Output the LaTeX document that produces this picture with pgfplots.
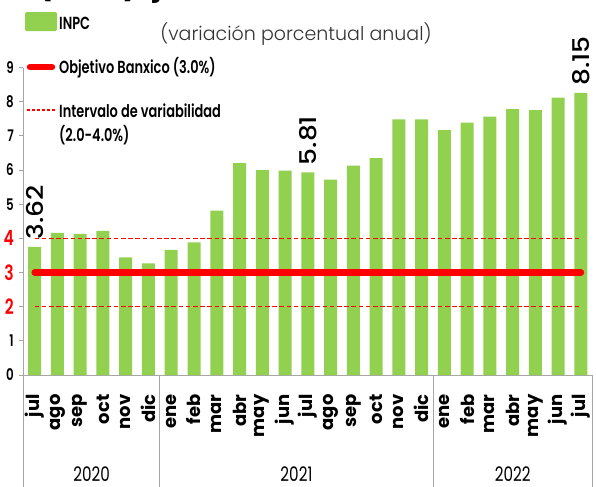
\documentclass[border=0pt]{standalone}
\usepackage{fontspec}
\setmainfont{Poppins}
\newfontfamily\cond[FakeStretch=0.76]{Poppins}
\newfontfamily\condmed[FakeStretch=0.76]{Poppins Medium}
\newfontfamily\condsemi[FakeStretch=0.74]{Poppins SemiBold}
\newfontfamily\poplight{Poppins Light}
\newfontfamily\labfont[FakeStretch=1.15]{Poppins Medium}
\usepackage{pgfplots}
\pgfplotsset{compat=1.18}
\definecolor{inpc}{HTML}{92D050}
\definecolor{axgray}{HTML}{A6A6A6}
\begin{document}
\begin{tikzpicture}
\useasboundingbox (0,0) rectangle (596bp,-487bp);
% cropped title (only its lower edge is visible)
\node[anchor=base east, inner sep=0, font=\bfseries\fontsize{30bp}{30bp}\selectfont] at (30bp,5bp) {Inflación};
\node[anchor=base west, inner sep=0, font=\bfseries\fontsize{30bp}{30bp}\selectfont] at (37bp,5bp) {(INPC), julio 2022, anual};
% subtitle
\node[anchor=base, inner sep=0, font=\poplight\fontsize{19bp}{19bp}\selectfont, text=black!80] at (296bp,-40bp) {(variación porcentual anual)};
% legend
\fill[inpc, rounded corners=1.5bp] (25bp,-12bp) rectangle (57bp,-31bp);
\node[anchor=base west, inner sep=0, font=\condsemi\fontsize{17.5bp}{17.5bp}\selectfont] at (59bp,-29bp) {INPC};
\draw[red, line width=6.5bp, line cap=round] (30bp,-67bp) -- (52bp,-67bp);
\node[anchor=base west, inner sep=0, font=\condsemi\fontsize{17.5bp}{17.5bp}\selectfont] at (59bp,-73bp) {Objetivo Banxico (3.0\%)};
\draw[red, line width=1.3bp, dash pattern=on 3bp off 2bp] (27bp,-110bp) -- (55bp,-110bp);
\node[anchor=base west, inner sep=0, font=\condsemi\fontsize{17.5bp}{17.5bp}\selectfont] at (59bp,-117bp) {Intervalo de variabilidad};
\node[anchor=base west, inner sep=0, font=\condsemi\fontsize{17.5bp}{17.5bp}\selectfont] at (59bp,-141bp) {(2.0-4.0\%)};
\begin{axis}[
  at={(23.3bp,-375bp)}, anchor=south west, scale only axis,
  width=569bp, height=307.5bp,
  xmin=-0.5, xmax=24.5, ymin=0, ymax=9,
  axis x line=bottom, axis y line=left,
  axis line style={draw=axgray, -, line width=0.8bp},
  ytick={0,...,9},
  yticklabels={0,1,{\color{red}\fontsize{21bp}{21bp}\selectfont 2},{\color{red}\fontsize{21bp}{21bp}\selectfont 3},{\color{red}\fontsize{21bp}{21bp}\selectfont 4},5,6,7,8,9},
  ytick style={draw=axgray, line width=0.8bp},
  tick align=outside, major tick length=4bp,
  xtick={0,...,24},
  xticklabels={jul,ago,sep,oct,nov,dic,ene,feb,mar,abr,may,jun,jul,ago,sep,oct,nov,dic,ene,feb,mar,abr,may,jun,jul},
  x tick style={draw=none},
  xticklabel style={rotate=90, anchor=east, font=\bfseries\fontsize{18bp}{18bp}\selectfont},
  xticklabel shift=12bp,
  yticklabel style={anchor=east, font=\condsemi\fontsize{16bp}{16bp}\selectfont},
  yticklabel shift=2bp,
  clip=false,
]
\addplot[ybar, bar width=13bp, fill=inpc, draw=none] coordinates {
(0,3.75) (1,4.16) (2,4.13) (3,4.22) (4,3.44) (5,3.27)
(6,3.66) (7,3.88) (8,4.81) (9,6.20) (10,6.00) (11,5.98)
(12,5.93) (13,5.72) (14,6.13) (15,6.35) (16,7.48) (17,7.48)
(18,7.17) (19,7.39) (20,7.56) (21,7.78) (22,7.75) (23,8.12) (24,8.26)};
\addplot[red, line width=6.5bp, line cap=round] coordinates {(0,3) (24,3)};
\addplot[red, line width=1.3bp, dash pattern=on 4.5bp off 2.7bp] coordinates {(0,4) (24,4)};
\addplot[red, line width=1.3bp, dash pattern=on 4.5bp off 2.7bp] coordinates {(0,2) (24,2)};
\addplot[draw=none, mark=none, nodes near coords, point meta=explicit symbolic,
  nodes near coords style={rotate=90, anchor=west, inner xsep=7bp, inner ysep=0pt, text=black, font=\labfont\fontsize{23bp}{23bp}\selectfont}]
  coordinates {(0,3.75)[3.62] (12,5.93)[5.81] (24,8.26)[8.15]};
\draw[axgray, line width=0.8bp] (axis cs:-0.5,0) -- ++(0pt,-115bp);
\draw[axgray, line width=0.8bp] (axis cs:5.5,0) -- ++(0pt,-115bp);
\draw[axgray, line width=0.8bp] (axis cs:17.5,0) -- ++(0pt,-115bp);
\draw[axgray, line width=0.8bp] (axis cs:24.5,0) -- ++(0pt,-115bp);
\node[anchor=base, inner sep=0, font=\cond\fontsize{20bp}{20bp}\selectfont] at ([yshift=-106bp]axis cs:2.5,0) {2020};
\node[anchor=base, inner sep=0, font=\cond\fontsize{20bp}{20bp}\selectfont] at ([yshift=-106bp]axis cs:11.5,0) {2021};
\node[anchor=base, inner sep=0, font=\cond\fontsize{20bp}{20bp}\selectfont] at ([yshift=-106bp]axis cs:21,0) {2022};
\end{axis}
\end{tikzpicture}
\end{document}
